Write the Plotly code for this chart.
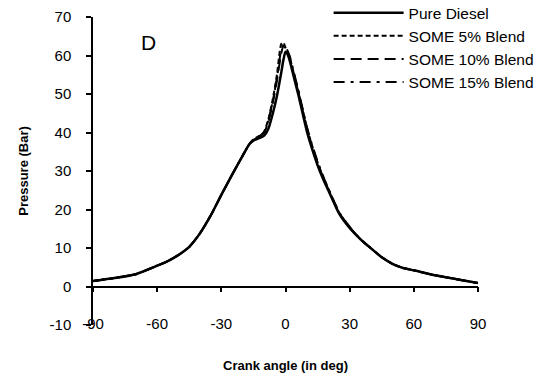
import plotly.graph_objects as go

ANGLE = [-90, -80, -70, -60, -55, -50, -45, -40, -35, -30, -25, -20, -17, -15, -12, -10, -8, -6, -4, -2, -1, 0,
         1, 2, 4, 6, 8, 10, 12, 15, 18, 20, 25, 30, 35, 40, 45, 50, 55, 60, 70, 80, 90]

PURE_DIESEL = [1.4, 2.2, 3.2, 5.4, 6.6, 8.2, 10.3, 13.8, 18.4, 23.8, 29.0, 34.0, 36.9, 37.9, 38.6, 39.2, 41.0, 44.8, 49.5, 55.5, 58.8, 61.0,
               60.3, 58.6, 54.2, 49.8, 45.0, 40.3, 36.5, 31.5, 27.4, 25.0, 19.0, 15.2, 12.3, 9.9, 7.6, 5.9, 4.8, 4.2, 2.9, 1.9, 0.9]
SOME_5 = [1.4, 2.2, 3.2, 5.4, 6.6, 8.2, 10.3, 13.8, 18.4, 23.8, 29.0, 34.0, 36.9, 38.2, 39.2, 40.2, 43.5, 48.5, 55.0, 63.0, 63.4, 62.0,
          60.8, 59.3, 55.2, 50.8, 46.0, 41.3, 37.4, 32.2, 27.9, 25.4, 19.3, 15.4, 12.3, 9.9, 7.6, 5.9, 4.8, 4.2, 2.9, 1.9, 0.9]
SOME_10 = [1.4, 2.2, 3.2, 5.4, 6.6, 8.2, 10.3, 13.8, 18.4, 23.8, 29.0, 34.0, 36.9, 38.1, 39.0, 40.0, 42.8, 47.5, 53.5, 60.5, 62.4, 62.0,
           61.0, 59.5, 55.0, 50.5, 45.8, 41.0, 37.0, 32.0, 27.8, 25.3, 19.2, 15.3, 12.3, 9.9, 7.6, 5.9, 4.8, 4.2, 2.9, 1.9, 0.9]
SOME_15 = [1.4, 2.2, 3.2, 5.4, 6.6, 8.2, 10.3, 13.8, 18.4, 23.8, 29.0, 34.0, 36.9, 38.2, 39.1, 40.1, 43.2, 48.0, 54.2, 61.5, 62.8, 62.3,
           61.2, 59.8, 55.4, 51.0, 46.2, 41.5, 37.6, 32.5, 28.1, 25.5, 19.4, 15.5, 12.3, 9.9, 7.6, 5.9, 4.8, 4.2, 2.9, 1.9, 0.9]

X_TICKS = [-90, -60, -30, 0, 30, 60, 90]
X_TICK_TEXT = ["-90", "-60", "-30", "0", "30", "60", "90"]
Y_TICKS = [-10, 0, 10, 20, 30, 40, 50, 60, 70]
Y_TICK_TEXT = ["-10", "0", "10", "20", "30", "40", "50", "60", "70"]

FONT = "Liberation Sans, Arial, sans-serif"

series = [
    ("Pure Diesel", PURE_DIESEL, "solid", 2.5, "x"),
    ("SOME 5% Blend", SOME_5, "5px,3px", 2, "x2"),
    ("SOME 10% Blend", SOME_10, "11px,6px", 2, "x2"),
    ("SOME 15% Blend", SOME_15, "11px,6px,3px,6px", 2, "x2"),
]

fig = go.Figure()
for name, vals, dash, w, xa in series:
    fig.add_trace(go.Scatter(x=ANGLE, y=vals, name=name, mode="lines", xaxis=xa, yaxis="y",
                             legendgroup=name,
                             line=dict(color="black", width=w, dash=dash, shape="spline", smoothing=0.6)))

fig.update_layout(
    width=546, height=378,
    margin=dict(l=93, r=68, t=17, b=53, autoexpand=False),
    paper_bgcolor="white", plot_bgcolor="white",
    font=dict(family=FONT, color="black", size=15),
    xaxis=dict(range=[-90, 90], tickvals=X_TICKS, showgrid=False, zeroline=False,
               showline=True, linecolor="black", linewidth=1.5, ticks="outside", ticklen=5,
               tickcolor="black", tickwidth=1.5, showticklabels=False,
               anchor="free", position=0.125),
    xaxis2=dict(range=[-90, 90], matches="x", overlaying="x", tickvals=X_TICKS, ticktext=X_TICK_TEXT,
                showgrid=False, zeroline=False, showline=False, ticks="", showticklabels=True,
                anchor="free", position=0.038, side="bottom",
                title=dict(text="<b>Crank angle (in deg)</b>", font=dict(size=13), standoff=29)),
    yaxis=dict(range=[-10, 70], tickvals=Y_TICKS, ticktext=Y_TICK_TEXT, showgrid=False, zeroline=False,
               showline=True, linecolor="black", linewidth=1.5, ticks="outside", ticklen=5,
               tickcolor="black", tickwidth=1.5, ticklabelstandoff=12, domain=[0, 1],
               title=dict(text="<b>Pressure (Bar)</b>", font=dict(size=13), standoff=18)),
    legend=dict(x=0.612, y=1.068, xanchor="left", yanchor="top", bgcolor="rgba(0,0,0,0)",
                font=dict(size=15.5), itemwidth=70, tracegroupgap=5, traceorder="normal"),
    showlegend=True,
)

fig.add_annotation(text="D", x=-64, y=63.5, xref="x", yref="y", showarrow=False,
                   font=dict(size=21, family=FONT, color="black"))

fig.write_html("out.html")
